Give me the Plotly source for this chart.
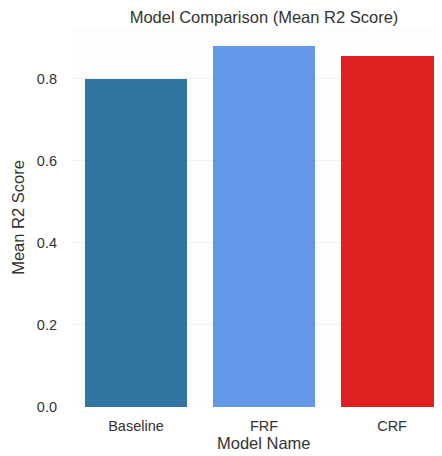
import plotly.graph_objects as go

models = ["Baseline", "FRF", "CRF"]
mean_r2 = [0.800, 0.880, 0.855]
colors = ["#3274A1", "#6397E8", "#DF2020"]
y_ticks = [0.0, 0.2, 0.4, 0.6, 0.8]
y_tick_labels = ["0.0", "0.2", "0.4", "0.6", "0.8"]

font_family = "Liberation Sans, Arial, sans-serif"
text_color = "#333333"

# page body adds an 8px offset; figure sized so it fills the 442x456 window
W, H = 434, 448
L, T, B, R = 64, 20, 49, 0

fig = go.Figure()
fig.add_trace(go.Bar(
    x=list(range(len(models))),
    y=mean_r2,
    marker=dict(color=colors, line=dict(width=0)),
    width=0.8,
))

fig.update_layout(
    width=W, height=H,
    margin=dict(l=L, r=R, t=T, b=B),
    paper_bgcolor="white",
    plot_bgcolor="#FDFDFD",
    showlegend=False,
    font=dict(family=font_family, color=text_color, size=14),
    title=dict(text="Model Comparison (Mean R2 Score)", x=256/W, xref="container",
               xanchor="center", y=1-9/H, yref="container", yanchor="middle",
               font=dict(size=16.5, color=text_color)),
    bargap=0,
)
fig.update_xaxes(
    range=[-0.5, 2.39],
    tickvals=list(range(len(models))), ticktext=models,
    showgrid=False, zeroline=False, showline=False,
    ticks="", ticklabelstandoff=8,
    tickfont=dict(size=14.5, color=text_color),
)
fig.update_yaxes(
    range=[0, 0.924],
    tickvals=y_ticks, ticktext=y_tick_labels,
    showgrid=True, gridcolor="#F2F2F2", gridwidth=1,
    zeroline=False, showline=False,
    ticks="", ticklabelstandoff=14,
    tickfont=dict(size=14.5, color=text_color),
    title=dict(text="Mean R2 Score", font=dict(size=16.5, color=text_color), standoff=8),
)
plot_w = W - L - R
plot_h = H - T - B
fig.add_annotation(
    text="Model Name",
    x=(256 - L) / plot_w, xref="paper",
    y=-36 / plot_h, yref="paper",
    xanchor="center", yanchor="middle",
    showarrow=False, font=dict(size=16.5, color=text_color),
)

fig.write_html("out.html")
